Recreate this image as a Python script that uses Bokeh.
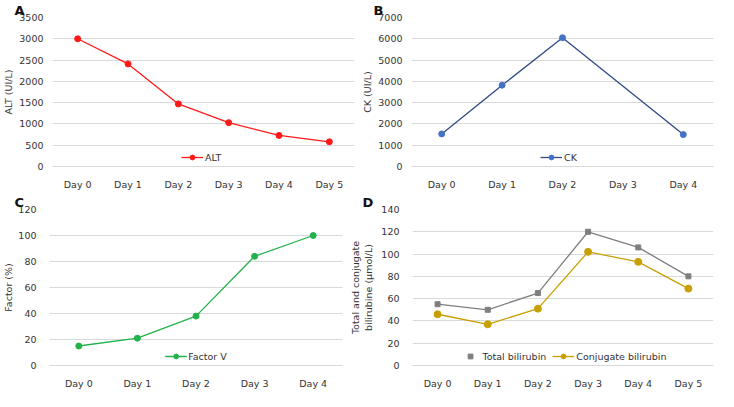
from bokeh.plotting import figure
from bokeh.layouts import column, row
from bokeh.models import Range1d, FixedTicker, Legend, LegendItem
from bokeh.embed import file_html
from bokeh.resources import INLINE

# ---------------- data ----------------
alt_days = ["Day 0", "Day 1", "Day 2", "Day 3", "Day 4", "Day 5"]
alt_values = [3000, 2410, 1470, 1030, 730, 580]
alt_ticks = [0, 500, 1000, 1500, 2000, 2500, 3000, 3500]

ck_axis_days = ["Day 0", "Day 1", "Day 2", "Day 3", "Day 4"]
ck_days = ["Day 0", "Day 1", "Day 2", "Day 4"]
ck_values = [1530, 3820, 6050, 1500]
ck_ticks = [0, 1000, 2000, 3000, 4000, 5000, 6000, 7000]

fv_days = ["Day 0", "Day 1", "Day 2", "Day 3", "Day 4"]
fv_values = [15, 21, 38, 84, 100]
fv_ticks = [0, 20, 40, 60, 80, 100, 120]

bili_days = ["Day 0", "Day 1", "Day 2", "Day 3", "Day 4", "Day 5"]
total_bili = [55, 50, 65, 120, 106, 80]
conj_bili = [46, 37, 51, 102, 93, 69]
bili_ticks = [0, 20, 40, 60, 80, 100, 120, 140]

FONT = "DejaVu Sans"
FS = "9.5px"
TXT = "#333333"
GRID = "#D9D9D9"


def make_fig(days, ymax, ticks, w, h, ylabel, label_standoff, tick_standoff):
    p = figure(x_range=days, y_range=Range1d(0, ymax), width=w, height=h,
               output_backend="svg", toolbar_location=None)
    p.outline_line_color = None
    p.xgrid.grid_line_color = None
    p.ygrid.grid_line_color = GRID
    p.yaxis.ticker = FixedTicker(ticks=ticks)
    p.yaxis.axis_line_color = None
    p.yaxis.major_tick_line_color = None
    p.yaxis.minor_tick_line_color = None
    p.yaxis.major_label_standoff = tick_standoff
    p.xaxis.axis_line_color = GRID
    p.xaxis.major_tick_line_color = None
    p.xaxis.minor_tick_line_color = None
    p.xaxis.major_label_standoff = 6
    for ax in p.axis:
        ax.major_label_text_font = FONT
        ax.major_label_text_font_size = FS
        ax.major_label_text_color = TXT
        ax.axis_label_text_font = FONT
        ax.axis_label_text_font_size = FS
        ax.axis_label_text_font_style = "normal"
        ax.axis_label_text_color = TXT
    p.yaxis.axis_label = ylabel
    p.yaxis.axis_label_standoff = label_standoff
    return p


def add_legend(p, items):
    lg = Legend(items=items, orientation="horizontal", location="bottom_center",
                label_text_font=FONT, label_text_font_size=FS,
                label_text_color=TXT, glyph_width=22, glyph_height=12,
                label_standoff=2, spacing=6, padding=2, margin=3,
                border_line_color=None, background_fill_color="white",
                background_fill_alpha=1)
    p.add_layout(lg)


def letter_title(p, text, offset):
    p.title.text = text
    p.title.align = "left"
    p.title.offset = offset
    p.title.standoff = 0
    p.title.text_font = FONT
    p.title.text_font_size = "13px"
    p.title.text_font_style = "bold"
    p.title.text_color = "#111111"


# ---------------- A: ALT ----------------
RED = "#FF1A1A"
pA = make_fig(alt_days, 3500, alt_ticks, 359, 192, "ALT (UI/L)", 2, 3)
lA = pA.line(alt_days, alt_values, line_color=RED, line_width=1.3)
sA = pA.scatter(alt_days, alt_values, size=6, color=RED)
add_legend(pA, [LegendItem(label="ALT", renderers=[lA, sA])])
letter_title(pA, "A", -38)

# ---------------- B: CK ----------------
NAVY = "#2F4A85"
BLUE = "#4472C4"
pB = make_fig(ck_axis_days, 7000, ck_ticks, 359, 192, "CK (UI/L)", 2, 3)
lB = pB.line(ck_days, ck_values, line_color=NAVY, line_width=1.3)
sB = pB.scatter(ck_days, ck_values, size=6, color=BLUE)
add_legend(pB, [LegendItem(label="CK", renderers=[lB, sB])])
letter_title(pB, "B", -38)

# ---------------- C: Factor V ----------------
GREEN = "#22B24C"
pC = make_fig(fv_days, 120, fv_ticks, 347, 199, "Factor (%)", 1, 7)
lC = pC.line(fv_days, fv_values, line_color=GREEN, line_width=1.3)
sC = pC.scatter(fv_days, fv_values, size=6, color=GREEN)
add_legend(pC, [LegendItem(label="Factor V", renderers=[lC, sC])])
letter_title(pC, "C", -35)

# ---------------- D: bilirubin ----------------
GRAY = "#7F7F7F"
GOLD = "#C9A004"
PINK = "#F08080"
pD = make_fig(bili_days, 140, bili_ticks, 371, 199,
              "Total and conjugate\nbilirubine (\u00b5mol/L)", 4, 7)
pD.line(bili_days, total_bili, line_color=GRAY, line_width=1.3)
sD1 = pD.scatter(bili_days, total_bili, size=5, marker="square", color=GRAY)
lD2 = pD.line(bili_days, conj_bili, line_color=GOLD, line_width=1.3)
sD2 = pD.scatter(bili_days, conj_bili, size=7, color=GOLD)
pink = pD.line(x=[], y=[], line_color=PINK, line_width=1.3)
add_legend(pD, [LegendItem(label="Total bilirubin", renderers=[pink, sD1]),
                LegendItem(label="Conjugate bilirubin", renderers=[lD2, sD2])])
letter_title(pD, "D", -50)

layout = column(row(pA, pB), row(pC, pD))

open("out.html", "w").write(file_html(layout, INLINE))
